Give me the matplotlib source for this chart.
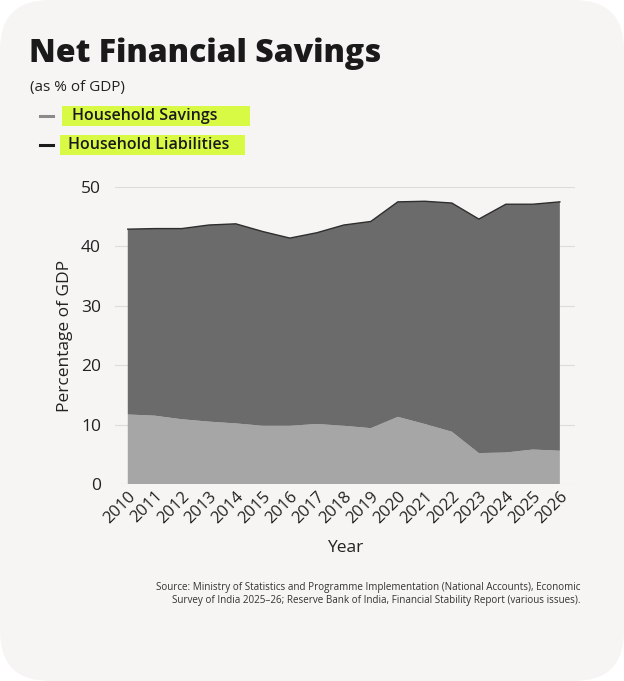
import matplotlib as mpl
import matplotlib.pyplot as plt
from matplotlib.patches import FancyBboxPatch, Rectangle
from matplotlib.lines import Line2D

mpl.rcParams.update({
    "font.family": ["Open Sans", "DejaVu Sans"],
    "font.size": 12,
})

# data (% of GDP)
years = list(range(2010, 2027))
household_savings = [11.7, 11.5, 10.9, 10.5, 10.2, 9.8, 9.8, 10.1, 9.8, 9.4,
                     11.3, 10.1, 8.8, 5.2, 5.3, 5.8, 5.6]
household_liabilities = [31.2, 31.5, 32.1, 33.1, 33.6, 32.7, 31.6, 32.2, 33.8, 34.8,
                         36.2, 37.5, 38.5, 39.4, 41.8, 41.3, 41.9]
y_ticks = [0, 10, 20, 30, 40, 50]

bg = "#f7f5f3"
fig = plt.figure(figsize=(6.24, 6.81), dpi=100)
fig.patch.set_facecolor("white")

# rounded card behind everything
card = FancyBboxPatch((0.0, 0.0), 1.0, 1.0, boxstyle="round,pad=0,rounding_size=0.08",
                      transform=fig.transFigure, facecolor=bg, edgecolor="none",
                      mutation_aspect=624 / 681, zorder=-10)
fig.patches.append(card)

ax = fig.add_axes([0.184, 0.2893, 0.737, 0.4361])
ax.set_facecolor(bg)
ax.stackplot(years, household_savings, household_liabilities,
             colors=["#a6a6a6", "#6b6b6b"], linewidth=0, zorder=2)
top = [s + l for s, l in zip(household_savings, household_liabilities)]
ax.plot(years, top, color="#2e2e2e", linewidth=1.0, zorder=3)

ax.set_xlim(2009.52, 2026.55)
ax.set_ylim(0, 50)
ax.set_yticks(y_ticks)
ax.set_xticks(years)
ax.set_xticklabels([str(y) for y in years], rotation=45, ha="right",
                   rotation_mode="anchor", fontsize=12, color="#222222")
ax.tick_params(axis="y", length=0, labelsize=12.5, labelcolor="#222222", pad=10)
ax.tick_params(axis="x", length=0, pad=3)
ax.grid(axis="y", color="#dcdcdc", linewidth=0.8, zorder=0)
for s in ax.spines.values():
    s.set_visible(False)
ax.set_ylabel("Percentage of GDP", fontsize=12.5, color="#222222", labelpad=6)
ax.set_xlabel("Year", fontsize=12.5, color="#222222", labelpad=10)

# title block
fig.text(29 / 624, 1 - 54 / 681, "Net Financial Savings", fontsize=23, fontweight="heavy",
         color="#1a1a1a", va="center", ha="left")
fig.text(30 / 624, 1 - 88 / 681, "(as % of GDP)", fontsize=11, color="#222222",
         va="center", ha="left")

# legend with highlighter marks
legend_items = [("Household Savings", "#8a8a8a", 116, 62, 250, 72),
                ("Household Liabilities", "#1a1a1a", 145, 60, 245, 68)]
for label, col, yc, hx0, hx1, tx in legend_items:
    fig.patches.append(Rectangle((hx0 / 624, 1 - (yc + 10) / 681), (hx1 - hx0) / 624, 20 / 681,
                                 transform=fig.transFigure, facecolor="#d8fb3c",
                                 edgecolor="none", alpha=0.95, zorder=1))
    fig.lines.append(Line2D([40 / 624, 53 / 624], [1 - yc / 681, 1 - yc / 681],
                            transform=fig.transFigure, color=col, linewidth=2.2))
    fig.text(tx / 624, 1 - yc / 681, label, fontsize=11.5, fontweight="semibold",
             color="#1a1a1a", va="center", ha="left", zorder=2)

fig.text(580 / 624, 1 - 594 / 681,
         "Source: Ministry of Statistics and Programme Implementation (National Accounts), Economic\n"
         "Survey of India 2025\u201326; Reserve Bank of India, Financial Stability Report (various issues).",
         fontsize=7.1, color="#333333", ha="right", va="center", multialignment="right",
         linespacing=1.35)

fig.savefig("out.png", dpi=100, facecolor=fig.get_facecolor())
